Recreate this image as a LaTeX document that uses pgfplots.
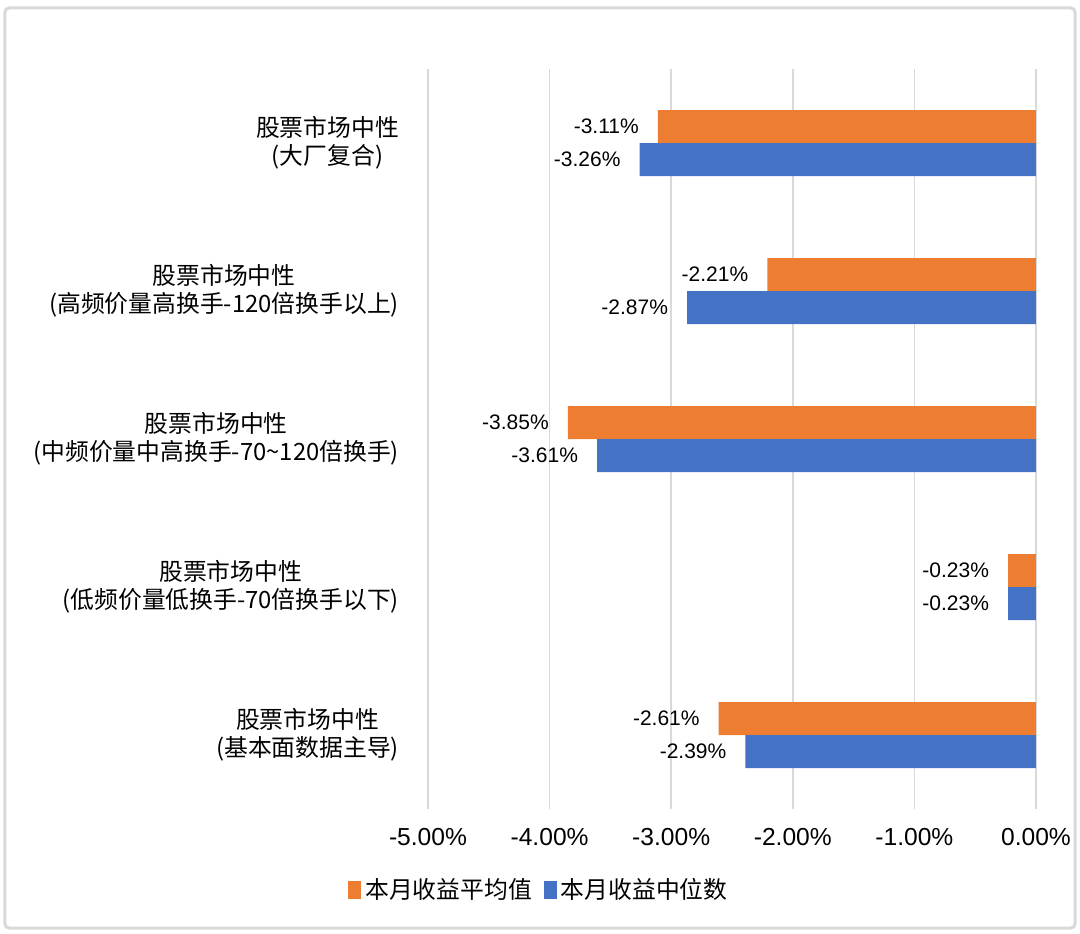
\documentclass[border=0pt]{standalone}
\usepackage{pgfplots}
\pgfplotsset{compat=1.18}
\usepackage{fontspec}
\setmainfont{Liberation Sans}
\newfontfamily\cjk{Noto Sans CJK SC}
\definecolor{cOrange}{HTML}{ED7D31}
\definecolor{cBlue}{HTML}{4472C4}
\definecolor{cGrid}{HTML}{D9D9D9}
\begin{document}
\begin{tikzpicture}
\useasboundingbox (-214pt,-62pt) rectangle (326pt,404.5pt);
\draw[cGrid, line width=1.5pt, rounded corners=2pt] (-211.5pt,-59.5pt) rectangle (323.5pt,400.5pt);
\begin{axis}[
  at={(0,0)}, anchor=south west,
  scale only axis, width=304pt, height=370pt,
  xmin=-5, xmax=0, ymin=-0.5, ymax=4.5,
  xtick={-5,-4,-3,-2,-1,0},
  xticklabels={-5.00\%,-4.00\%,-3.00\%,-2.00\%,-1.00\%,0.00\%},
  xmajorgrids, grid style={cGrid, line width=0.75pt},
  axis line style={draw=none}, major tick length=0pt,
  ytick={0,1,2,3,4},
  yticklabels={
    {股票市场中性\\(基本面数据主导)},
    {股票市场中性\\(低频价量低换手-70倍换手以下)},
    {股票市场中性\\(中频价量中高换手-70\textasciitilde120倍换手)},
    {股票市场中性\\(高频价量高换手-120倍换手以上)},
    {股票市场中性\\(大厂复合)}},
  yticklabel style={align=center, font=\cjk\fontsize{11.9}{14}\selectfont, xshift=-11pt},
  xticklabel style={font=\fontsize{12.3}{14}\selectfont, yshift=-6pt},
  xbar, bar width=16.5pt,
  point meta=x,
  nodes near coords={\pgfmathprintnumber[fixed,fixed zerofill,precision=2,assume math mode=true]{\pgfplotspointmeta}\%},
  every node near coord/.append style={anchor=east, font=\fontsize{10.5}{12}\selectfont, xshift=-6pt, text=black},
  legend style={at={(0.184,-0.1095)}, anchor=center, draw=none, legend columns=2,
    font=\cjk\fontsize{11.9}{14}\selectfont,
    /tikz/every even column/.append style={column sep=4pt}},
]
\addplot[fill=cOrange, draw=none, bar shift=8.25pt,
  legend image code/.code={\fill[cOrange] (0pt,-4.5pt) rectangle (6.5pt,4.5pt);}]
  coordinates {(-2.61,0) (-0.23,1) (-3.85,2) (-2.21,3) (-3.11,4)};
\addlegendentry{本月收益平均值}
\addplot[fill=cBlue, draw=none, bar shift=-8.25pt,
  legend image code/.code={\fill[cBlue] (0pt,-4.5pt) rectangle (6.5pt,4.5pt);}]
  coordinates {(-2.39,0) (-0.23,1) (-3.61,2) (-2.87,3) (-3.26,4)};
\addlegendentry{本月收益中位数}
\end{axis}
\end{tikzpicture}
\end{document}
